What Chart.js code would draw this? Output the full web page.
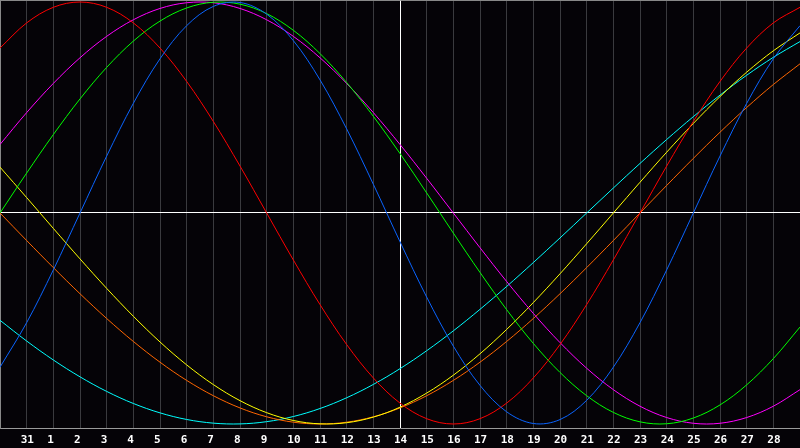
<!DOCTYPE html>
<html><head><meta charset="utf-8">
<script src="https://cdn.jsdelivr.net/npm/chart.js@4"></script>
<style>html,body{margin:0;padding:0;background:#050307;overflow:hidden}canvas{display:block}</style>
</head><body><canvas id="c" width="800" height="448"></canvas>
<script>
const dayIndex = [-1,0,1,2,3,4,5,6,7,8,9,10,11,12,13,14,15,16,17,18,19,20,21,22,23,24,25,26,27,28,29];
const tickLabels = ["31","1","2","3","4","5","6","7","8","9","10","11","12","13","14","15","16","17","18","19","20","21","22","23","24","25","26","27","28"];
const todayIndex = 14;
const physical = [-0.7308,-0.5196,-0.2698,0,0.2698,0.5196,0.7308,0.8879,0.9791,0.9977,0.9423,0.8170,0.6310,0.3984,0.1362,-0.1362,-0.3984,-0.6310,-0.8170,-0.9423,-0.9977,-0.9791,-0.8879,-0.7308,-0.5196,-0.2698,0,0.2698,0.5196,0.7308,0.8879];
const emotional = [0.7818,0.9010,0.9749,1,0.9749,0.9010,0.7818,0.6235,0.4339,0.2225,0,-0.2225,-0.4339,-0.6235,-0.7818,-0.9010,-0.9749,-1,-0.9749,-0.9010,-0.7818,-0.6235,-0.4339,-0.2225,0,0.2225,0.4339,0.6235,0.7818,0.9010,0.9749];
const intellectual = [0,0.1893,0.3717,0.5406,0.6901,0.8146,0.9096,0.9718,0.9989,0.9898,0.9450,0.8660,0.7557,0.6182,0.4582,0.2817,0.0951,-0.0951,-0.2817,-0.4582,-0.6182,-0.7557,-0.8660,-0.9450,-0.9898,-0.9989,-0.9718,-0.9096,-0.8146,-0.6901,-0.5406];
const intuitive = [0.3247,0.4759,0.6142,0.7357,0.8372,0.9158,0.9694,0.9966,0.9966,0.9694,0.9158,0.8372,0.7357,0.6142,0.4759,0.3247,0.1646,0,-0.1646,-0.3247,-0.4759,-0.6142,-0.7357,-0.8372,-0.9158,-0.9694,-0.9966,-0.9966,-0.9694,-0.9158,-0.8372];
const aesthetic = [0.2174,0.0730,-0.0730,-0.2174,-0.3572,-0.4894,-0.6112,-0.7199,-0.8133,-0.8894,-0.9464,-0.9834,-0.9993,-0.9940,-0.9675,-0.9203,-0.8536,-0.7687,-0.6673,-0.5517,-0.4244,-0.2881,-0.1456,0,0.1456,0.2881,0.4244,0.5517,0.6673,0.7687,0.8536];
const awareness = [0,-0.1305,-0.2588,-0.3827,-0.5,-0.6088,-0.7071,-0.7934,-0.8660,-0.9239,-0.9659,-0.9914,-1,-0.9914,-0.9659,-0.9239,-0.8660,-0.7934,-0.7071,-0.6088,-0.5,-0.3827,-0.2588,-0.1305,0,0.1305,0.2588,0.3827,0.5,0.6088,0.7071];
const spiritual = [-0.5085,-0.6068,-0.6966,-0.7765,-0.8456,-0.9028,-0.9473,-0.9786,-0.9960,-0.9996,-0.9890,-0.9646,-0.9267,-0.8757,-0.8125,-0.7378,-0.6528,-0.5586,-0.4566,-0.3482,-0.2349,-0.1183,0,0.1183,0.2349,0.3482,0.4566,0.5586,0.6528,0.7378,0.8125];

const Y_MIN = -1.019, Y_MAX = 1.0095;

function series(label, values, color) {
  return {
    label, borderColor: color, backgroundColor: color, borderWidth: 1,
    pointRadius: 0, tension: 0.35, fill: false,
    data: dayIndex.map((x, j) => ({ x, y: values[j] }))
  };
}

const bg = {
  id: 'bg',
  beforeDraw(chart) {
    const c = chart.ctx;
    c.save(); c.fillStyle = '#050307'; c.fillRect(0, 0, chart.width, chart.height); c.restore();
  }
};

new Chart(document.getElementById('c'), {
  type: 'line',
  data: {
    datasets: [
      series('Physical', physical, '#0a64ff'),
      series('Emotional', emotional, '#ff0000'),
      series('Intellectual', intellectual, '#00ff00'),
      series('Intuitive', intuitive, '#ff00ff'),
      series('Aesthetic', aesthetic, '#ffff00'),
      series('Awareness', awareness, '#ff6600'),
      series('Spiritual', spiritual, '#00ffff')
    ]
  },
  options: {
    responsive: false, animation: false, devicePixelRatio: 1,
    layout: { padding: 0 },
    plugins: { legend: { display: false }, tooltip: { enabled: false } },
    scales: {
      x: {
        type: 'linear', min: dayIndex[0], max: dayIndex[dayIndex.length - 1],
        afterBuildTicks(axis) { axis.ticks = dayIndex.map(v => ({ value: v })); },
        afterFit(axis) { axis.paddingLeft = 0; axis.paddingRight = 0; axis.height = 20; },
        ticks: {
          autoSkip: false, maxRotation: 0, minRotation: 0, align: 'start', labelOffset: -6,
          color: '#ffffff', padding: 6,
          font: { family: 'DejaVu Sans Mono', size: 11, weight: 'bold' },
          callback(v) { return (v >= 0 && v < tickLabels.length) ? tickLabels[v] : ''; }
        },
        grid: {
          drawTicks: false, lineWidth: 1,
          color(ctx) {
            const v = ctx.tick && ctx.tick.value;
            if (v === todayIndex) return '#ffffff';
            if (v === dayIndex[0] || v === dayIndex[dayIndex.length - 1]) return 'rgba(0,0,0,0)';
            return '#3a3a3e';
          }
        },
        border: { display: true, color: '#9a9a9a', width: 1 }
      },
      y: {
        type: 'linear', min: Y_MIN, max: Y_MAX,
        afterBuildTicks(axis) { axis.ticks = [{ value: Y_MIN }, { value: 0 }, { value: Y_MAX }]; },
        afterFit(axis) { axis.width = 0; axis.paddingTop = 0; axis.paddingBottom = 0; },
        ticks: { display: false },
        grid: {
          drawTicks: false, lineWidth: 1,
          color(ctx) {
            const v = ctx.tick && ctx.tick.value;
            if (v === 0) return '#ffffff';
            if (v === Y_MAX) return '#888888';
            return 'rgba(0,0,0,0)';
          }
        },
        border: { display: true, color: '#888888', width: 1 }
      }
    }
  },
  plugins: [bg]
});
</script>
</body></html>
